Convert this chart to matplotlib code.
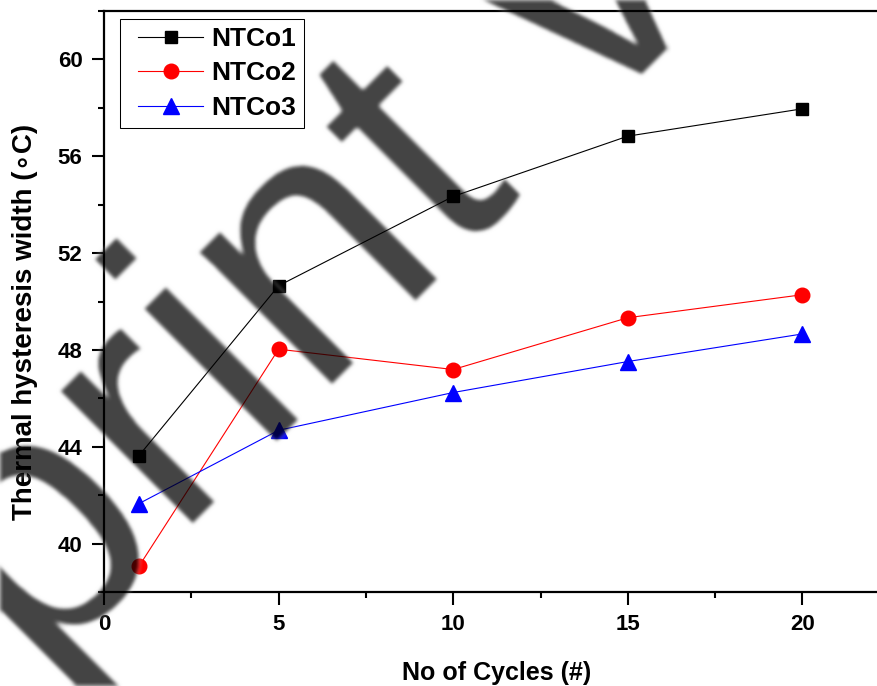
import numpy as np
import matplotlib
matplotlib.use("Agg")
import matplotlib.pyplot as plt
from matplotlib.lines import Line2D
from matplotlib.legend_handler import HandlerLine2D
from matplotlib.ticker import MultipleLocator

plt.rcParams["font.family"] = ["Liberation Sans", "DejaVu Sans"]
plt.rcParams["font.weight"] = "bold"

cycles = [1, 5, 10, 15, 20]
ntco1 = [43.63, 50.65, 54.34, 56.83, 57.96]
ntco2 = [39.06, 48.03, 47.19, 49.33, 50.28]
ntco3 = [41.65, 44.68, 46.24, 47.52, 48.66]


def _box(a, r, axis):
    pad = [(0, 0)] * a.ndim
    pad[axis] = (r + 1, r)
    c = np.cumsum(np.pad(a, pad, mode="edge"), axis=axis)
    n = a.shape[axis]
    hi = np.take(c, np.arange(2 * r + 1, 2 * r + 1 + n), axis=axis)
    lo = np.take(c, np.arange(0, n), axis=axis)
    return (hi - lo) / (2 * r + 1)


def soften(img, dpi):
    # small blur so the stamp edges are not razor sharp
    p = 8
    a = np.pad(img, ((p, p), (p, p), (0, 0)))
    for _ in range(2):
        a = _box(a, 2, 0)
        a = _box(a, 2, 1)
    return a, -p, -p


def main():
    fig = plt.figure(figsize=(8.78, 6.86), dpi=100)
    W, H = 878, 686
    # axes box in pixels: left 104, bottom 592, top 11, 0..22.5 on x
    ax = fig.add_axes([104 / W, (H - 592) / H, 785.7 / W, 581 / H])
    ax.patch.set_alpha(0)

    ax.plot(cycles, ntco1, color="black", lw=0.8, marker="s", ms=9, label="NTCo1")
    ax.plot(cycles, ntco2, color="red", lw=0.8, marker="o", ms=10.5, label="NTCo2")
    ax.plot(cycles, ntco3, color="blue", lw=0.8, marker="^", ms=11.5, label="NTCo3")

    ax.set_xlim(0, 22.5)
    ax.set_ylim(38, 62)
    ax.xaxis.set_major_locator(MultipleLocator(5))
    ax.xaxis.set_minor_locator(MultipleLocator(2.5))
    ax.yaxis.set_minor_locator(MultipleLocator(2))
    ax.set_yticks([40, 44, 48, 52, 56, 60])

    for s in ax.spines.values():
        s.set_linewidth(1.6)
    ax.tick_params(which="major", direction="out", length=9, width=1.5,
                   labelsize=16, pad=6.5)
    ax.tick_params(which="minor", direction="out", length=4.5, width=1.5)
    ax.tick_params(top=False, right=False, which="both")

    ax.set_xlabel("No of Cycles (#)", fontsize=18, fontweight="bold", labelpad=19)
    ax.set_ylabel("Thermal hysteresis width (\u2218C)", fontsize=20,
                  fontweight="bold")
    ax.yaxis.set_label_coords(-0.084, 0.4647)

    leg = ax.legend(loc="upper left", bbox_to_anchor=(120 / W, 1 - 19 / H),
                    bbox_transform=fig.transFigure, borderaxespad=0,
                    prop={"weight": "bold", "size": 19},
                    handlelength=2.86, handletextpad=0.3, labelspacing=0.4,
                    borderpad=0.3, fancybox=False, framealpha=1,
                    handler_map={Line2D: HandlerLine2D(xpad=0.39)})
    leg.get_frame().set_edgecolor("black")
    leg.get_frame().set_linewidth(0.75)

    # diagonal stamp across the figure
    stamp = fig.text(-352 / W, (H - 1070) / H, "Preprint version",
                     fontsize=255, fontweight="normal", color="black", alpha=0.74,
                     rotation=45, rotation_mode="anchor", ha="left", va="baseline",
                     family=["Liberation Sans", "DejaVu Sans"], zorder=10)
    stamp.set_agg_filter(soften)

    fig.savefig("out.png", dpi=100)


if __name__ == "__main__":
    main()
